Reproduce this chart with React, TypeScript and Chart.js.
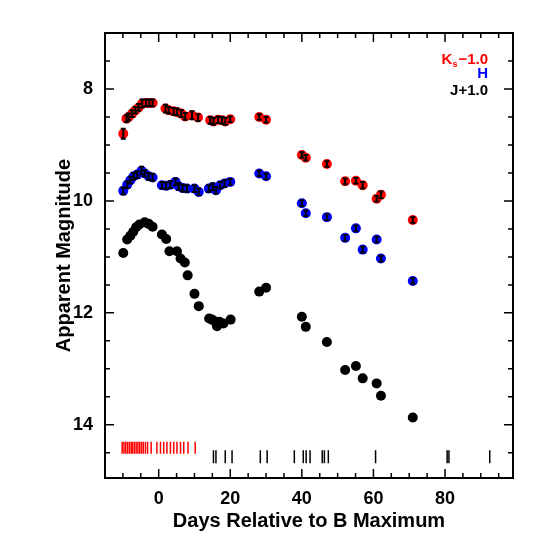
import React, { useEffect, useRef } from "react";
import { Chart, registerables } from "chart.js";
Chart.register(...registerables);

// ---- data (plotted magnitudes, already offset) ----
const kDays = [-9.9, -9.0, -8.4, -7.4, -6.5, -5.6, -4.6, -3.5, -2.6, -1.7, 1.9, 2.8, 4.2, 5.1, 6.3, 7.4, 9.3, 11.0, 14.4, 15.3, 16.6, 17.7, 18.6, 20.0, 28.1, 30.0, 40.0, 41.1, 47.0, 52.1, 55.1, 57.0, 60.9, 62.1, 71.0];
const kMag = [8.80, 8.53, 8.50, 8.44, 8.38, 8.33, 8.26, 8.25, 8.25, 8.25, 8.35, 8.38, 8.40, 8.41, 8.44, 8.49, 8.47, 8.51, 8.56, 8.58, 8.55, 8.56, 8.58, 8.54, 8.50, 8.55, 9.18, 9.23, 9.34, 9.65, 9.64, 9.72, 9.96, 9.89, 10.34];
const kErr = [0.09, 0.06, 0.06, 0.06, 0.06, 0.06, 0.07, 0.06, 0.06, 0.06, 0.07, 0.06, 0.06, 0.06, 0.06, 0.06, 0.07, 0.06, 0.06, 0.06, 0.06, 0.06, 0.06, 0.05, 0.05, 0.05, 0.05, 0.05, 0.05, 0.05, 0.05, 0.06, 0.05, 0.06, 0.05];

const hDays = [-9.9, -8.8, -7.9, -7.0, -6.0, -4.8, -3.9, -2.8, -1.7, 0.9, 2.1, 3.3, 4.7, 5.6, 6.7, 7.9, 10.0, 11.2, 14.0, 15.1, 16.0, 17.2, 18.4, 20.0, 28.1, 30.0, 40.0, 41.1, 47.0, 52.1, 55.1, 57.0, 60.9, 62.1, 71.0];
const hMag = [9.82, 9.71, 9.63, 9.56, 9.53, 9.46, 9.51, 9.56, 9.58, 9.72, 9.73, 9.71, 9.66, 9.74, 9.77, 9.78, 9.78, 9.84, 9.78, 9.75, 9.81, 9.72, 9.69, 9.66, 9.51, 9.56, 10.04, 10.22, 10.29, 10.66, 10.49, 10.87, 10.69, 11.03, 11.43];
const hErr = [0.06, 0.06, 0.06, 0.06, 0.06, 0.07, 0.06, 0.06, 0.06, 0.06, 0.06, 0.06, 0.06, 0.06, 0.06, 0.06, 0.06, 0.06, 0.06, 0.06, 0.06, 0.06, 0.06, 0.05, 0.05, 0.05, 0.05, 0.05, 0.05, 0.05, 0.05, 0.05, 0.05, 0.05, 0.05];

const jDays = [-9.9, -8.8, -7.9, -7.1, -6.3, -5.4, -3.9, -2.8, -1.7, 0.9, 2.1, 3.0, 5.1, 6.1, 7.3, 8.1, 10.0, 11.2, 14.1, 14.9, 15.6, 16.3, 17.0, 18.1, 20.1, 28.1, 30.0, 40.0, 41.1, 47.0, 52.1, 55.1, 57.0, 60.9, 62.1, 71.0];
const jMag = [10.93, 10.69, 10.62, 10.55, 10.47, 10.42, 10.38, 10.41, 10.46, 10.60, 10.68, 10.90, 10.90, 11.03, 11.10, 11.33, 11.66, 11.88, 12.10, 12.12, 12.15, 12.24, 12.16, 12.19, 12.12, 11.62, 11.55, 12.07, 12.25, 12.52, 13.02, 12.95, 13.17, 13.26, 13.48, 13.87];
const jErr = [0, 0, 0, 0, 0, 0, 0, 0, 0, 0, 0, 0, 0, 0, 0, 0, 0, 0, 0, 0, 0, 0, 0, 0, 0, 0, 0, 0, 0, 0, 0, 0, 0, 0, 0, 0.06];

// spectroscopic epochs (tick marks near the bottom)
const redEpochs = [-10.2, -9.7, -9.2, -8.7, -8.2, -7.7, -7.3, -6.8, -6.3, -5.8, -5.3, -4.8, -4.3, -3.7, -3.1, -2.1, -0.5, 0.5, 1.4, 2.3, 3.3, 4.2, 5.1, 6.1, 7.0, 8.2, 10.2];
const redEpochLevel = 14.41;
const blackEpochs = [15.3, 16.0, 18.6, 20.5, 28.4, 30.3, 37.9, 40.4, 41.2, 42.3, 45.7, 46.3, 47.4, 60.6, 80.6, 81.1, 92.5];
const blackEpochLevel = 14.57;

const xTicks = [0, 20, 40, 60, 80];
const yTicks = [8, 10, 12, 14];
const X_MIN = -15, X_MAX = 99, Y_MIN = 7, Y_MAX = 14.95;

const FONT = "'Liberation Sans', Arial, Helvetica, sans-serif";

const pts = (xs: number[], ys: number[]) => xs.map((x, i) => ({ x, y: ys[i] }));

const errorBars = {
  id: "errorBars",
  afterDatasetsDraw(chart: any) {
    const { ctx, scales } = chart;
    const xs = scales.x, ys = scales.y;
    ctx.save();
    ctx.strokeStyle = "#000";
    ctx.lineWidth = 2;
    chart.data.datasets.forEach((ds: any) => {
      if (!ds.errors) return;
      ds.data.forEach((p: any, i: number) => {
        const e = ds.errors[i];
        if (!e) return;
        const px = xs.getPixelForValue(p.x);
        const y1 = ys.getPixelForValue(p.y - e);
        const y2 = ys.getPixelForValue(p.y + e);
        ctx.beginPath();
        ctx.moveTo(px, y1); ctx.lineTo(px, y2);
        ctx.moveTo(px - 2.5, y1); ctx.lineTo(px + 2.5, y1);
        ctx.moveTo(px - 2.5, y2); ctx.lineTo(px + 2.5, y2);
        ctx.stroke();
      });
    });
    ctx.restore();
  },
};

const frame = {
  id: "frame",
  afterDraw(chart: any) {
    const { ctx, chartArea: a, scales } = chart;
    const xs = scales.x, ys = scales.y;
    ctx.save();
    ctx.strokeStyle = "#000";
    ctx.lineWidth = 2;
    ctx.strokeRect(a.left, a.top, a.right - a.left, a.bottom - a.top);
    ctx.lineWidth = 1.5;
    ctx.beginPath();
    for (let v = -15; v <= X_MAX; v += 5) {
      if (v <= X_MIN || v >= X_MAX) continue;
      const px = xs.getPixelForValue(v);
      const len = v % 20 === 0 ? 9 : 5;
      ctx.moveTo(px, a.bottom); ctx.lineTo(px, a.bottom - len);
      ctx.moveTo(px, a.top); ctx.lineTo(px, a.top + len);
    }
    for (let v = 7.5; v < Y_MAX; v += 0.5) {
      const py = ys.getPixelForValue(v);
      const len = Math.abs(v % 2) < 1e-6 ? 9 : 5;
      ctx.moveTo(a.left, py); ctx.lineTo(a.left + len, py);
      ctx.moveTo(a.right, py); ctx.lineTo(a.right - len, py);
    }
    ctx.stroke();

    // legend text
    const rx = 488;
    ctx.textAlign = "right";
    ctx.textBaseline = "middle";
    ctx.font = `bold 15px ${FONT}`;
    ctx.fillStyle = "#ff0000";
    const t1 = "\u22121.0";
    ctx.fillText(t1, rx, 60);
    const w1 = ctx.measureText(t1).width;
    ctx.font = `bold 9px ${FONT}`;
    ctx.fillText("s", rx - w1 - 1, 65);
    const ws = ctx.measureText("s").width;
    ctx.font = `bold 15px ${FONT}`;
    ctx.fillText("K", rx - w1 - ws - 1, 60);
    ctx.fillStyle = "#0000ff";
    ctx.fillText("H", rx, 74);
    ctx.fillStyle = "#000";
    ctx.fillText("J+1.0", rx, 91);
    ctx.restore();
  },
};

export default function App() {
  const ref = useRef<HTMLCanvasElement | null>(null);
  useEffect(() => {
    if (!ref.current) return;
    const chart = new Chart(ref.current, {
      type: "scatter",
      data: {
        datasets: [
          {
            label: "J+1.0",
            data: pts(jDays, jMag),
            errors: jErr,
            backgroundColor: "#000",
            borderWidth: 0,
            pointRadius: 5,
          } as any,
          {
            label: "H",
            data: pts(hDays, hMag),
            errors: hErr,
            backgroundColor: "#0000ff",
            borderWidth: 0,
            pointRadius: 5,
          } as any,
          {
            label: "Ks-1.0",
            data: pts(kDays, kMag),
            errors: kErr,
            backgroundColor: "#ff0000",
            borderWidth: 0,
            pointRadius: 5,
          } as any,
          {
            label: "K spectra",
            data: redEpochs.map((x) => ({ x, y: redEpochLevel })),
            pointStyle: "line",
            rotation: 90,
            pointRadius: 6,
            borderColor: "#ff0000",
            borderWidth: 1.5,
          } as any,
          {
            label: "spectra",
            data: blackEpochs.map((x) => ({ x, y: blackEpochLevel })),
            pointStyle: "line",
            rotation: 90,
            pointRadius: 6.5,
            borderColor: "#000",
            borderWidth: 1.5,
          } as any,
        ],
      },
      options: {
        animation: false,
        responsive: false,
        devicePixelRatio: 1,
        events: [],
        layout: { padding: { top: 33, right: 32, left: 0, bottom: 0 } },
        plugins: { legend: { display: false }, tooltip: { enabled: false } },
        scales: {
          x: {
            type: "linear",
            position: "bottom",
            min: X_MIN,
            max: X_MAX,
            grid: { display: false, drawTicks: false },
            border: { display: false },
            afterBuildTicks: (s: any) => { s.ticks = xTicks.map((v) => ({ value: v })); },
            afterFit: (s: any) => { s.height = 67; },
            ticks: {
              color: "#000",
              padding: 10,
              maxRotation: 0,
              font: { family: FONT, size: 18, weight: "bold" },
            },
            title: {
              display: true,
              text: "Days Relative to B Maximum",
              color: "#000",
              font: { family: FONT, size: 20, weight: "bold" },
              padding: { top: 0, bottom: 12 },
            },
          },
          y: {
            type: "linear",
            position: "left",
            reverse: true,
            min: Y_MIN,
            max: Y_MAX,
            grid: { display: false, drawTicks: false },
            border: { display: false },
            afterBuildTicks: (s: any) => { s.ticks = yTicks.map((v) => ({ value: v })); },
            afterFit: (s: any) => { s.width = 105; },
            ticks: {
              color: "#000",
              padding: 12,
              font: { family: FONT, size: 18, weight: "bold" },
            },
            title: {
              display: true,
              text: "Apparent Magnitude",
              color: "#000",
              font: { family: FONT, size: 20, weight: "bold" },
              padding: { top: 52, bottom: 0 },
            },
          },
        },
      },
      plugins: [errorBars, frame],
    } as any);
    return () => chart.destroy();
  }, []);
  return (
    <canvas
      ref={ref}
      width={545}
      height={545}
      style={{ position: "absolute", left: 0, top: 0, width: 545, height: 545, display: "block", background: "#fff" }}
    />
  );
}
